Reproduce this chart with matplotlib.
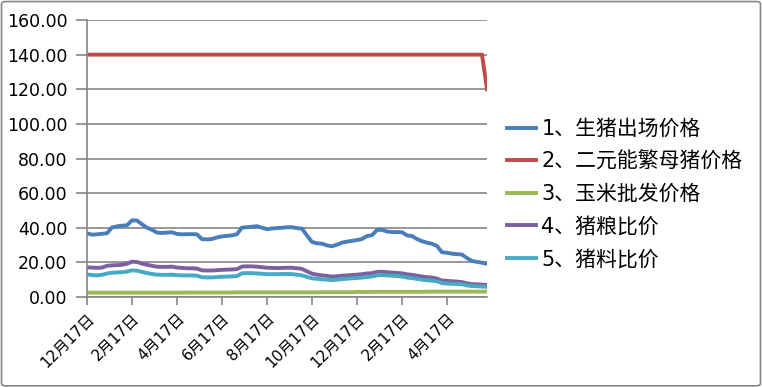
import matplotlib
matplotlib.use("Agg")
import matplotlib.pyplot as plt
from matplotlib.patches import FancyBboxPatch

plt.rcParams["font.family"] = ["DejaVu Sans", "Noto Sans CJK SC"]
plt.rcParams["axes.unicode_minus"] = False

# ── 数据 ──────────────────────────────────────────────
tick_labels = ["12月17日", "2月17日", "4月17日", "6月17日", "8月17日",
               "10月17日", "12月17日", "2月17日", "4月17日"]
series_names = ["1、生猪出场价格", "2、二元能繁母猪价格", "3、玉米批发价格",
                "4、猪粮比价", "5、猪料比价"]

hog_price = [
    36.8, 36.0, 36.2, 36.5, 36.8, 40.2, 40.8, 41.2, 41.4, 44.3,
    44.2, 42.0, 40.0, 38.8, 37.2, 37.0, 37.2, 37.4, 36.4, 36.2,
    36.3, 36.3, 36.2, 33.4, 33.3, 33.5, 34.4, 35.0, 35.3, 35.6,
    36.3, 40.1, 40.3, 40.6, 40.9, 40.0, 39.2, 39.6, 39.8, 40.0,
    40.3, 40.3, 39.8, 39.5, 35.5, 31.8, 31.0, 30.8, 29.8, 29.3,
    30.2, 31.4, 32.0, 32.4, 32.9, 33.5, 35.2, 35.7, 38.7, 38.8,
    37.8, 37.5, 37.5, 37.4, 35.6, 35.2, 33.5, 32.2, 31.4, 30.7,
    29.5, 25.8, 25.6, 25.0, 24.8, 24.5, 22.5, 20.8, 20.3, 19.8,
    19.2,
]
sow_price = [
    140, 140, 140, 140, 140, 140, 140, 140, 140, 140,
    140, 140, 140, 140, 140, 140, 140, 140, 140, 140,
    140, 140, 140, 140, 140, 140, 140, 140, 140, 140,
    140, 140, 140, 140, 140, 140, 140, 140, 140, 140,
    140, 140, 140, 140, 140, 140, 140, 140, 140, 140,
    140, 140, 140, 140, 140, 140, 140, 140, 140, 140,
    140, 140, 140, 140, 140, 140, 140, 140, 140, 140,
    140, 140, 140, 140, 140, 140, 140, 140, 140, 140,
    120,
]
corn_price = [
    2.5, 2.5, 2.5, 2.5, 2.5, 2.5, 2.5, 2.5, 2.5, 2.5,
    2.5, 2.5, 2.5, 2.5, 2.5, 2.5, 2.5, 2.5, 2.5, 2.5,
    2.6, 2.6, 2.6, 2.6, 2.6, 2.6, 2.6, 2.6, 2.6, 2.6,
    2.7, 2.7, 2.7, 2.7, 2.7, 2.7, 2.7, 2.7, 2.7, 2.7,
    2.7, 2.7, 2.7, 2.7, 2.7, 2.7, 2.7, 2.8, 2.8, 2.8,
    2.8, 2.8, 2.8, 2.8, 2.9, 2.9, 2.9, 2.9, 3.0, 3.0,
    3.0, 3.0, 3.0, 3.0, 3.0, 3.0, 3.0, 3.0, 3.1, 3.1,
    3.1, 3.1, 3.1, 3.1, 3.1, 3.1, 3.1, 3.1, 3.1, 3.1,
    3.1,
]
hog_grain_ratio = [
    17.1, 17.0, 16.8, 17.0, 18.0, 18.3, 18.4, 18.6, 19.2, 20.4,
    20.2, 19.3, 18.6, 18.0, 17.5, 17.4, 17.4, 17.5, 17.0, 16.8,
    16.6, 16.6, 16.4, 15.4, 15.3, 15.3, 15.5, 15.7, 15.8, 15.9,
    16.1, 17.6, 17.7, 17.7, 17.5, 17.2, 16.9, 16.8, 16.7, 16.8,
    16.9, 16.9, 16.6, 16.2, 14.8, 13.5, 12.9, 12.5, 12.2, 11.8,
    12.0, 12.3, 12.5, 12.7, 12.9, 13.2, 13.6, 13.8, 14.5, 14.6,
    14.3, 14.1, 13.9, 13.7, 13.1, 12.8, 12.3, 11.8, 11.5, 11.2,
    10.6, 9.5, 9.3, 9.1, 8.9, 8.6, 7.9, 7.4, 7.3, 7.1,
    7.0,
]
hog_feed_ratio = [
    13.0, 12.7, 12.5, 12.8, 13.6, 14.0, 14.2, 14.3, 14.7, 15.4,
    15.2, 14.5, 13.8, 13.3, 12.9, 12.8, 12.8, 12.9, 12.6, 12.5,
    12.5, 12.5, 12.3, 11.4, 11.3, 11.3, 11.5, 11.7, 11.8, 11.9,
    12.1, 13.7, 13.8, 13.8, 13.6, 13.4, 13.2, 13.2, 13.2, 13.3,
    13.3, 13.2, 12.9, 12.5, 11.6, 10.8, 10.5, 10.2, 10.0, 9.8,
    10.0, 10.3, 10.6, 10.8, 11.0, 11.2, 11.5, 11.9, 12.5, 12.7,
    12.5, 12.3, 12.1, 11.8, 11.2, 10.9, 10.5, 10.0, 9.7, 9.4,
    9.1, 8.0, 7.8, 7.6, 7.5, 7.3, 6.7, 6.3, 6.2, 6.0,
    5.9,
]

COLORS = ["#4A7EBB", "#BE4B48", "#98B954", "#7D60A0", "#46AAC5"]
all_series = [hog_price, sow_price, corn_price, hog_grain_ratio, hog_feed_ratio]

fig = plt.figure(figsize=(7.62, 3.87), dpi=100)
fig.patch.set_facecolor("white")
ax = fig.add_axes([87 / 762, 1 - 297 / 387, 400 / 762, 277 / 387])

x = list(range(len(hog_price)))
lines = []
for vals, col, name in zip(all_series, COLORS, series_names):
    ln, = ax.plot(x, vals, color=col, lw=2.8, label=name, solid_joinstyle="round")
    lines.append(ln)

ax.set_xlim(0, len(hog_price) - 1)
ax.set_ylim(0, 160)
ax.set_yticks(range(0, 161, 20))
ax.set_yticklabels([f"{v:.2f}" for v in range(0, 161, 20)], fontsize=12.5)
ax.yaxis.grid(True, color="#868686", lw=1.2)
ax.set_axisbelow(True)

ax.set_xticks(range(0, 9 * len(tick_labels), 9))
ax.set_xticklabels(tick_labels, rotation=45, ha="right", rotation_mode="anchor",
                   fontsize=11)
ax.tick_params(axis="both", color="#868686", width=1.2)
ax.tick_params(axis="y", length=8, pad=6)
ax.tick_params(axis="x", length=6, pad=4)

for s in ["top", "right"]:
    ax.spines[s].set_visible(False)
for s in ["left", "bottom"]:
    ax.spines[s].set_color("#868686")
    ax.spines[s].set_linewidth(1.2)

fig.legend(handles=lines, loc="upper left", bbox_to_anchor=(507 / 762, 1 - 119 / 387),
           frameon=False, handlelength=1.4, handletextpad=0.25,
           borderpad=0, borderaxespad=0, labelspacing=0.6,
           prop={"family": ["DejaVu Sans", "Noto Sans CJK SC"], "size": 15})

# 外框
border = FancyBboxPatch((0.002, 0.003), 0.996, 0.993, boxstyle="round,pad=0,rounding_size=0.006",
                        transform=fig.transFigure, fill=False, ec="#868686", lw=1.2)
fig.patches.append(border)

plt.savefig("out.png", dpi=100, facecolor=fig.get_facecolor())
